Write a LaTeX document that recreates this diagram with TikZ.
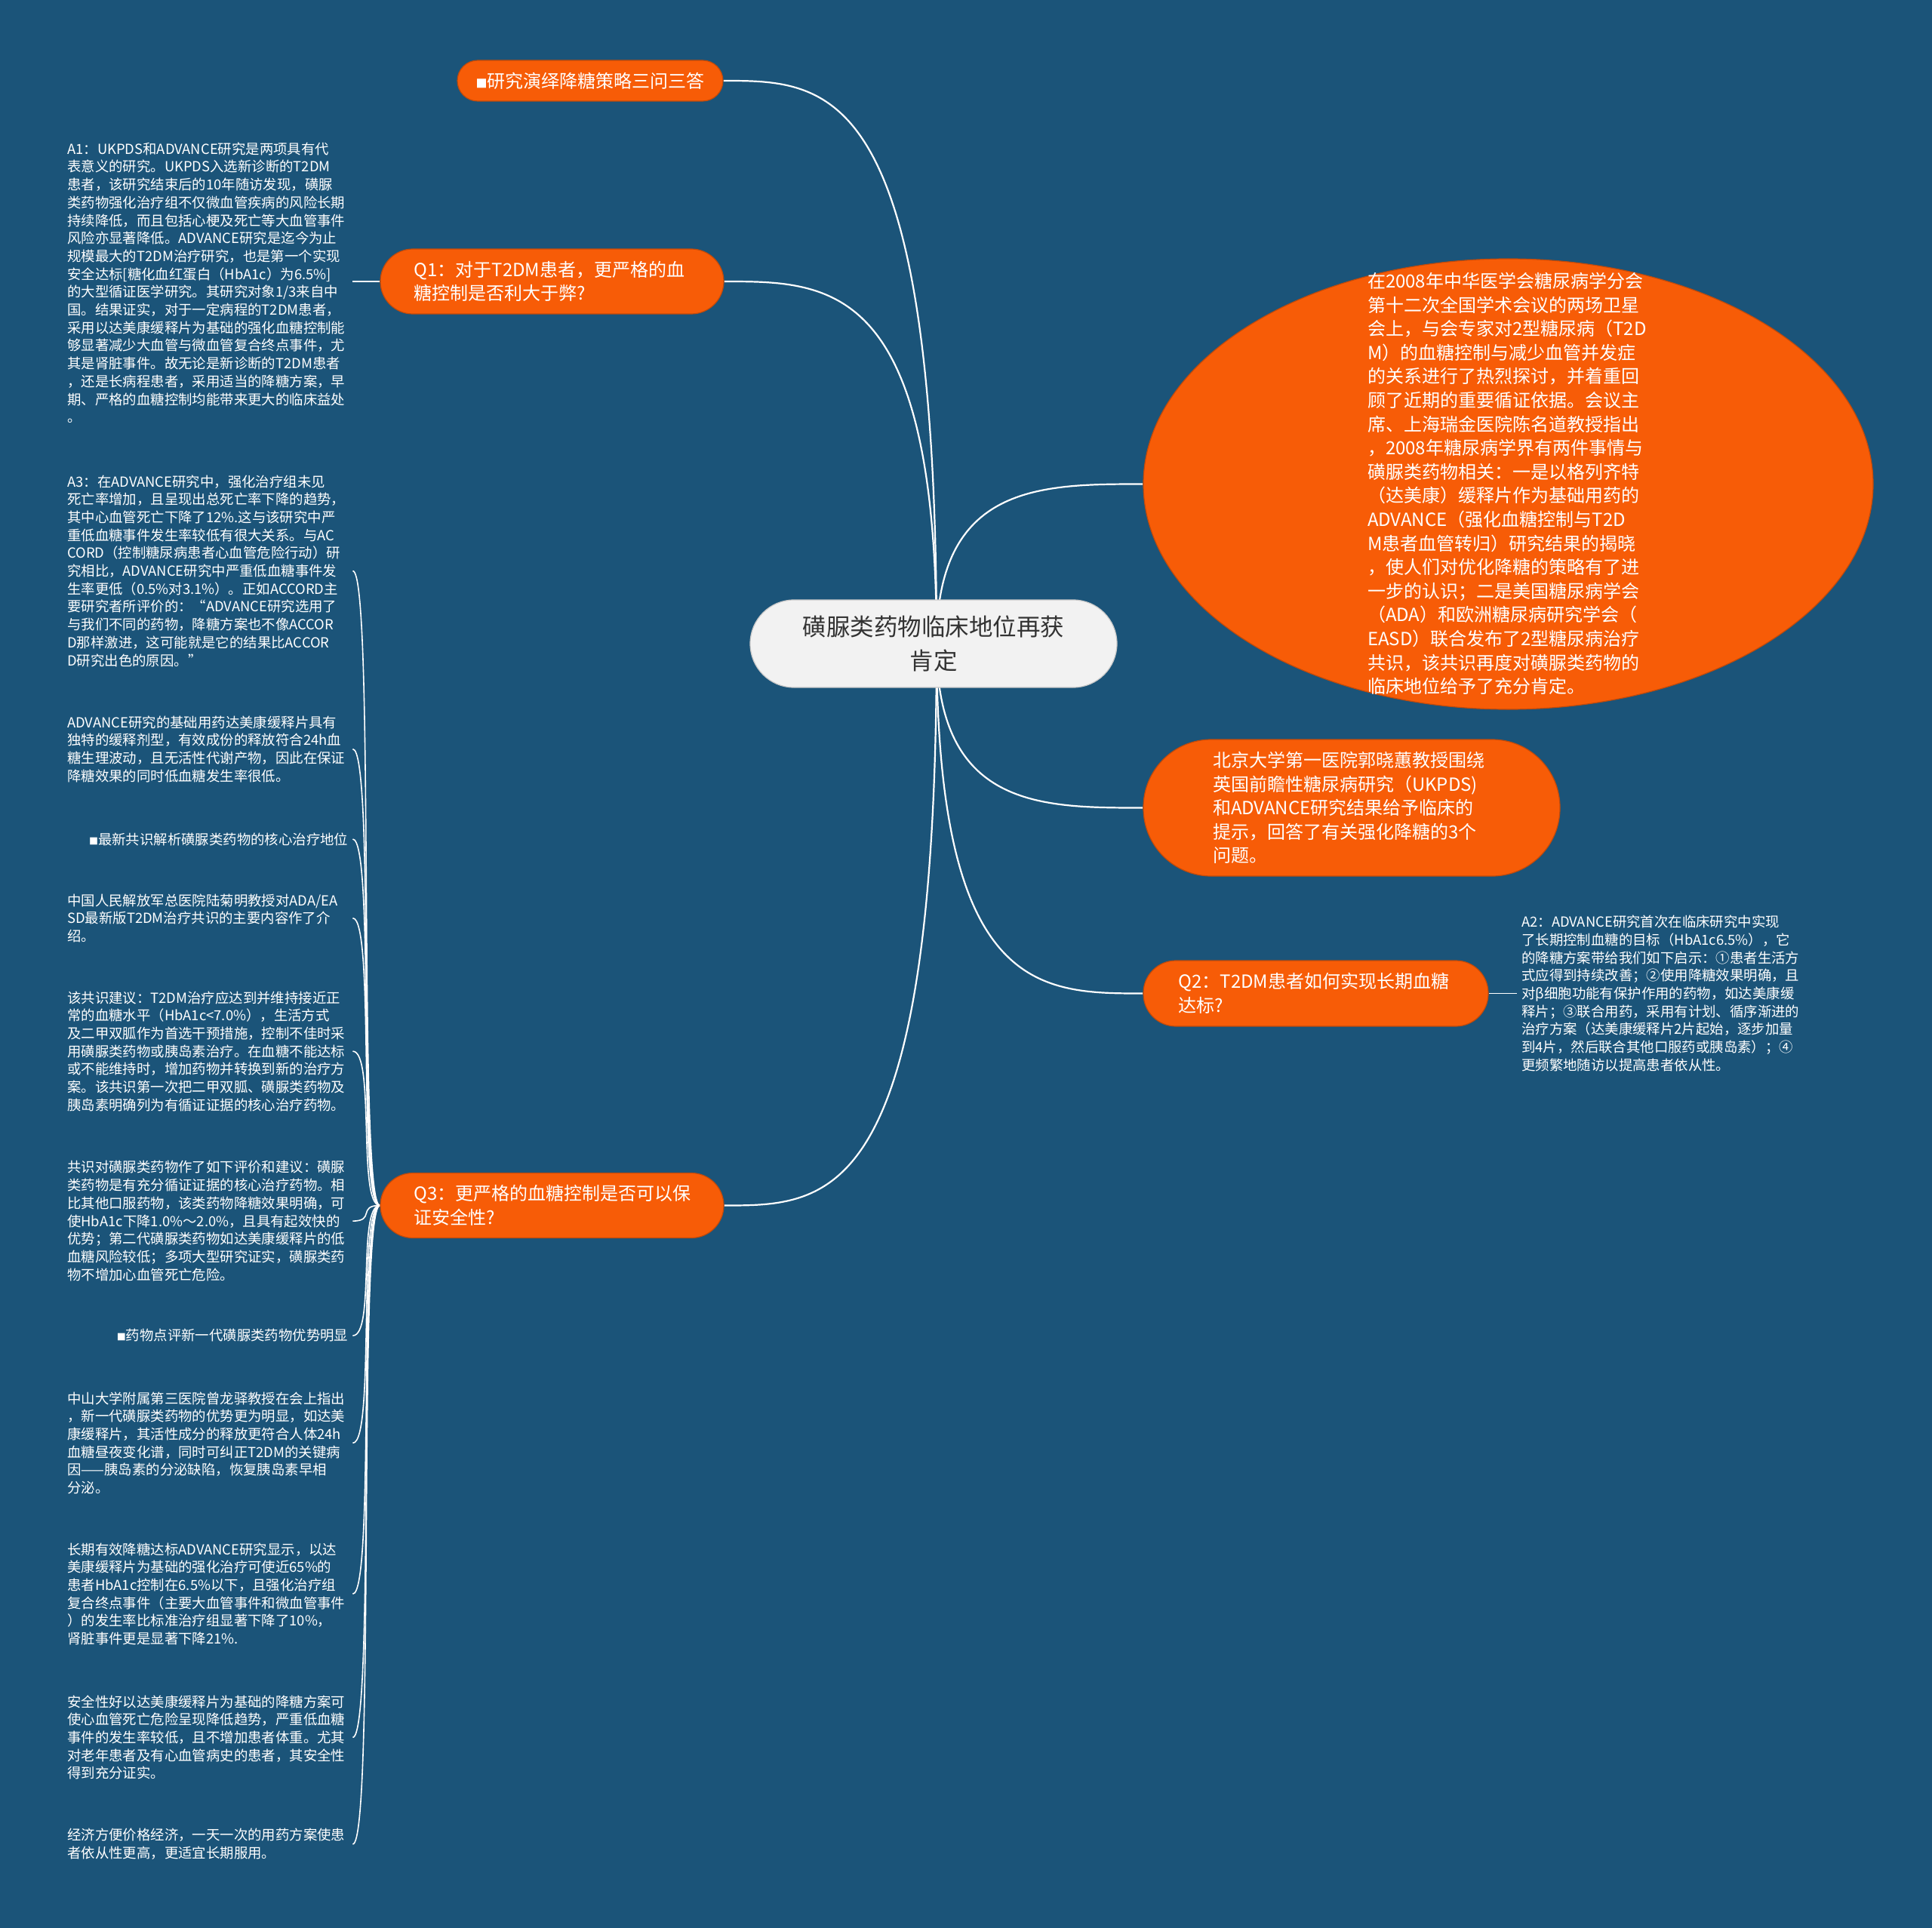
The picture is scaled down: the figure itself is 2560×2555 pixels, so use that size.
\documentclass[tikz,border=0pt]{standalone}
\usepackage{fontspec}
\setmainfont{Noto Sans CJK SC}
\usetikzlibrary{calc,shapes.geometric}
\pgfdeclarelayer{bg}
\pgfsetlayers{bg,main}
\definecolor{bgblue}{HTML}{1B5479}
\definecolor{orng}{HTML}{F75C07}
\definecolor{orngdark}{HTML}{C24A0A}
\definecolor{rootfill}{HTML}{F2F2F2}
\definecolor{rootdraw}{HTML}{C8C8C8}
\definecolor{textdark}{HTML}{333333}
\begin{document}
\begin{tikzpicture}[x=1pt,y=-1pt,
  orangebox/.style={fill=orng, draw=orngdark, line width=1.2pt, text=white, inner sep=0pt,
    font=\fontsize{24}{31.6}\selectfont},
  conn/.style={draw=white, line width=2.2pt},
  thinconn/.style={draw=white, line width=1.6pt},
  lefttext/.style={text=white, font=\fontsize{18.4}{23.7}\selectfont, text width=372pt,
    align=left, inner sep=0pt, anchor=west},
  righttext/.style={text=white, font=\fontsize{18.4}{23.7}\selectfont, text width=372pt,
    align=right, inner sep=0pt, anchor=west},
]
\begin{pgfonlayer}{bg}
\fill[bgblue] (0,0) rectangle (2560,2555);
\end{pgfonlayer}
\useasboundingbox (0,0) rectangle (2560,2555);

% root
\node[fill=rootfill, draw=rootdraw, line width=1.2pt, minimum width=486pt, minimum height=116pt,
  rounded corners=58pt, align=center, text=textdark, inner sep=0pt,
  font=\fontsize{31.5}{45}\selectfont] (root) at (1237,853) {磺脲类药物临床地位再获\\肯定};
\coordinate (hub) at ([xshift=4pt]root.center);

% left-side main branches
\node[orangebox, minimum width=352pt, minimum height=54pt, rounded corners=27pt] (top) at (782,107)
  {{\fontsize{15}{15}\selectfont ■}研究演绎降糖策略三问三答};
\node[orangebox, minimum width=455pt, minimum height=86pt, rounded corners=43pt,
  text width=366pt, align=left] (q1) at (731.5,373)
  {Q1：对于T2DM患者，更严格的血\\糖控制是否利大于弊?};
\node[orangebox, minimum width=455pt, minimum height=86pt, rounded corners=43pt,
  text width=366pt, align=left] (q3) at (731.5,1597.5)
  {Q3：更严格的血糖控制是否可以保\\证安全性?};

% right-side branches
\node[ellipse, fill=orng, draw=orngdark, line width=1.2pt, minimum width=967pt,
  minimum height=597pt, inner sep=0pt] (intro) at (1998.5,641.5) {};
\node[text=white, text width=372pt, align=left, inner sep=0pt,
  font=\fontsize{24}{31.6}\selectfont] (introtext) at (1998,641) {在2008年中华医学会糖尿病学分会\\
第十二次全国学术会议的两场卫星\\
会上，与会专家对2型糖尿病（T2D\\
M）的血糖控制与减少血管并发症\\
的关系进行了热烈探讨，并着重回\\
顾了近期的重要循证依据。会议主\\
席、上海瑞金医院陈名道教授指出\\
，2008年糖尿病学界有两件事情与\\
磺脲类药物相关：一是以格列齐特\\
（达美康）缓释片作为基础用药的\\
ADVANCE（强化血糖控制与T2D\\
M患者血管转归）研究结果的揭晓\\
，使人们对优化降糖的策略有了进\\
一步的认识；二是美国糖尿病学会\\
（ADA）和欧洲糖尿病研究学会（\\
EASD）联合发布了2型糖尿病治疗\\
共识，该共识再度对磺脲类药物的\\
临床地位给予了充分肯定。};

\node[orangebox, minimum width=552pt, minimum height=181pt, rounded corners=90pt,
  text width=368pt, align=left] (bj) at (1791,1070.5)
  {北京大学第一医院郭晓蕙教授围绕\\
英国前瞻性糖尿病研究（UKPDS)\\
和ADVANCE研究结果给予临床的\\
提示，回答了有关强化降糖的3个\\
问题。};

\node[orangebox, minimum width=457pt, minimum height=87pt, rounded corners=43pt,
  text width=364pt, align=left] (q2) at (1743.5,1316.5)
  {Q2：T2DM患者如何实现长期血糖\\达标?};

\node[lefttext] (a2) at (2016,1316.5) {A2：ADVANCE研究首次在临床研究中实现\\
了长期控制血糖的目标（HbA1c6.5\%），它\\
的降糖方案带给我们如下启示：①患者生活方\\
式应得到持续改善；②使用降糖效果明确，且\\
对β细胞功能有保护作用的药物，如达美康缓\\
释片；③联合用药，采用有计划、循序渐进的\\
治疗方案（达美康缓释片2片起始，逐步加量\\
到4片，然后联合其他口服药或胰岛素）；④\\
更频繁地随访以提高患者依从性。};

% left texts
\node[lefttext] (a1) at (89,374.75) {A1：UKPDS和ADVANCE研究是两项具有代\\
表意义的研究。UKPDS入选新诊断的T2DM\\
患者，该研究结束后的10年随访发现，磺脲\\
类药物强化治疗组不仅微血管疾病的风险长期\\
持续降低，而且包括心梗及死亡等大血管事件\\
风险亦显著降低。ADVANCE研究是迄今为止\\
规模最大的T2DM治疗研究，也是第一个实现\\
安全达标[糖化血红蛋白（HbA1c）为6.5\%]\\
的大型循证医学研究。其研究对象1/3来自中\\
国。结果证实，对于一定病程的T2DM患者，\\
采用以达美康缓释片为基础的强化血糖控制能\\
够显著减少大血管与微血管复合终点事件，尤\\
其是肾脏事件。故无论是新诊断的T2DM患者\\
，还是长病程患者，采用适当的降糖方案，早\\
期、严格的血糖控制均能带来更大的临床益处\\
。};

\node[lefttext] (c1) at (89,756.5) {A3：在ADVANCE研究中，强化治疗组未见\\
死亡率增加，且呈现出总死亡率下降的趋势，\\
其中心血管死亡下降了12\%.这与该研究中严\\
重低血糖事件发生率较低有很大关系。与AC\\
CORD（控制糖尿病患者心血管危险行动）研\\
究相比，ADVANCE研究中严重低血糖事件发\\
生率更低（0.5\%对3.1\%）。正如ACCORD主\\
要研究者所评价的：“ADVANCE研究选用了\\
与我们不同的药物，降糖方案也不像ACCOR\\
D那样激进，这可能就是它的结果比ACCOR\\
D研究出色的原因。”};

\node[lefttext] (c2) at (89,992.6) {ADVANCE研究的基础用药达美康缓释片具有\\
独特的缓释剂型，有效成份的释放符合24h血\\
糖生理波动，且无活性代谢产物，因此在保证\\
降糖效果的同时低血糖发生率很低。};

\node[righttext] (c3) at (89,1112) {{\fontsize{12}{12}\selectfont ■}最新共识解析磺脲类药物的核心治疗地位};

\node[lefttext] (c4) at (89,1216.7) {中国人民解放军总医院陆菊明教授对ADA/EA\\
SD最新版T2DM治疗共识的主要内容作了介\\
绍。};

\node[lefttext] (c5) at (89,1393.1) {该共识建议：T2DM治疗应达到并维持接近正\\
常的血糖水平（HbA1c<7.0\%），生活方式\\
及二甲双胍作为首选干预措施，控制不佳时采\\
用磺脲类药物或胰岛素治疗。在血糖不能达标\\
或不能维持时，增加药物并转换到新的治疗方\\
案。该共识第一次把二甲双胍、磺脲类药物及\\
胰岛素明确列为有循证证据的核心治疗药物。};

\node[lefttext] (c6) at (89,1618.1) {共识对磺脲类药物作了如下评价和建议：磺脲\\
类药物是有充分循证证据的核心治疗药物。相\\
比其他口服药物，该类药物降糖效果明确，可\\
使HbA1c下降1.0\%～2.0\%，且具有起效快的\\
优势；第二代磺脲类药物如达美康缓释片的低\\
血糖风险较低；多项大型研究证实，磺脲类药\\
物不增加心血管死亡危险。};

\node[righttext] (c7) at (89,1770) {{\fontsize{12}{12}\selectfont ■}药物点评新一代磺脲类药物优势明显};

\node[lefttext] (c8) at (89,1912.3) {中山大学附属第三医院曾龙驿教授在会上指出\\
，新一代磺脲类药物的优势更为明显，如达美\\
康缓释片，其活性成分的释放更符合人体24h\\
血糖昼夜变化谱，同时可纠正T2DM的关键病\\
因——胰岛素的分泌缺陷，恢复胰岛素早相\\
分泌。};

\node[lefttext] (c9) at (89,2112.3) {长期有效降糖达标ADVANCE研究显示，以达\\
美康缓释片为基础的强化治疗可使近65\%的\\
患者HbA1c控制在6.5\%以下，且强化治疗组\\
复合终点事件（主要大血管事件和微血管事件\\
）的发生率比标准治疗组显著下降了10\%，\\
肾脏事件更是显著下降21\%.};

\node[lefttext] (c10) at (89,2302.4) {安全性好以达美康缓释片为基础的降糖方案可\\
使心血管死亡危险呈现降低趋势，严重低血糖\\
事件的发生率较低，且不增加患者体重。尤其\\
对老年患者及有心血管病史的患者，其安全性\\
得到充分证实。};

\node[lefttext] (c11) at (89,2443.9) {经济方便价格经济，一天一次的用药方案使患\\
者依从性更高，更适宜长期服用。};

% connectors
\begin{pgfonlayer}{bg}
\foreach \n in {top,q1,q3} {
  \draw[conn] (hub) .. controls (hub |- \n.east) and ($(hub |- \n.east)!0.5!(\n.east)$) .. (\n.east);
}
\foreach \n in {intro,bj,q2} {
  \draw[conn] (hub) .. controls (hub |- \n.west) and ($(hub |- \n.west)!0.5!(\n.west)$) .. (\n.west);
}
\draw[thinconn] (q1.west) -- ([xshift=6pt]a1.east |- q1.west);
\draw[thinconn] (q2.east) -- ([xshift=-6pt]a2.west |- q2.east);
\foreach \n in {c1,c2,c3,c4,c5,c6,c7,c8,c9,c10,c11} {
  \draw[thinconn] (q3.west) .. controls +(-30,0) and +(30,0) .. ([xshift=6pt]\n.east);
}
\end{pgfonlayer}
\end{tikzpicture}
\end{document}
